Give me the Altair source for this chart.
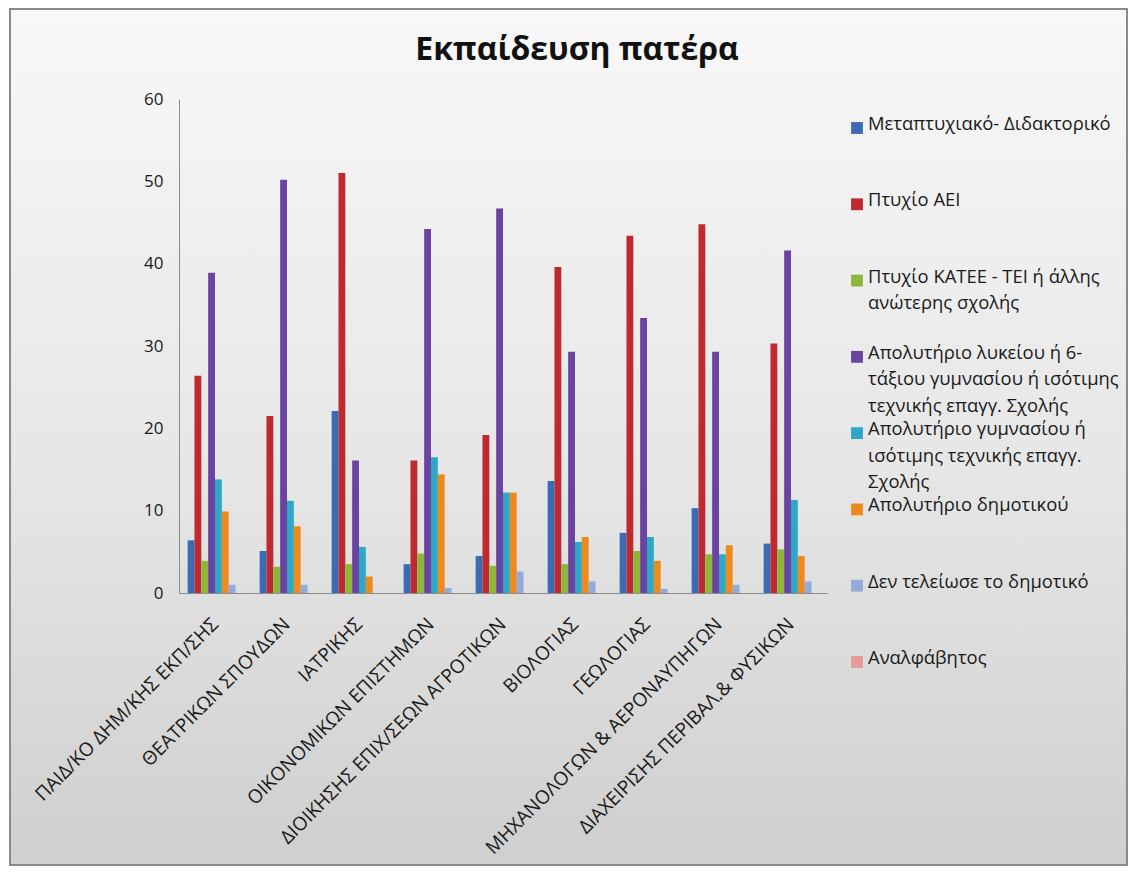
import altair as alt
import pandas as pd

categories = [
    "ΠΑΙΔ/ΚΟ ΔΗΜ/ΚΗΣ ΕΚΠ/ΣΗΣ",
    "ΘΕΑΤΡΙΚΩΝ ΣΠΟΥΔΩΝ",
    "ΙΑΤΡΙΚΗΣ",
    "ΟΙΚΟΝΟΜΙΚΩΝ ΕΠΙΣΤΗΜΩΝ",
    "ΔΙΟΙΚΗΣΗΣ ΕΠΙΧ/ΣΕΩΝ ΑΓΡΟΤΙΚΩΝ",
    "ΒΙΟΛΟΓΙΑΣ",
    "ΓΕΩΛΟΓΙΑΣ",
    "ΜΗΧΑΝΟΛΟΓΩΝ  & ΑΕΡΟΝΑΥΠΗΓΩΝ",
    "ΔΙΑΧΕΙΡΙΣΗΣ ΠΕΡΙΒΑΛ.& ΦΥΣΙΚΩΝ",
]

series = [
    "Μεταπτυχιακό- Διδακτορικό",
    "Πτυχίο ΑΕΙ",
    "Πτυχίο ΚΑΤΕΕ - ΤΕΙ ή άλλης ανώτερης σχολής",
    "Απολυτήριο λυκείου ή 6-τάξιου γυμνασίου ή ισότιμης τεχνικής επαγγ. Σχολής",
    "Απολυτήριο γυμνασίου ή ισότιμης τεχνικής επαγγ. Σχολής",
    "Απολυτήριο δημοτικού",
    "Δεν τελείωσε το δημοτικό",
    "Αναλφάβητος",
]

legend_labels = [
    "Μεταπτυχιακό- Διδακτορικό",
    "Πτυχίο ΑΕΙ",
    "Πτυχίο ΚΑΤΕΕ - ΤΕΙ ή άλλης\nανώτερης σχολής",
    "Απολυτήριο λυκείου ή 6-\nτάξιου γυμνασίου ή ισότιμης\nτεχνικής επαγγ. Σχολής",
    "Απολυτήριο γυμνασίου ή\nισότιμης τεχνικής επαγγ.\nΣχολής",
    "Απολυτήριο δημοτικού",
    "Δεν τελείωσε το δημοτικό",
    " Αναλφάβητος",
]

postgrad = [6.4, 5.1, 22.1, 3.5, 4.5, 13.6, 7.3, 10.3, 6.0]
aei = [26.4, 21.5, 51.0, 16.1, 19.2, 39.6, 43.4, 44.8, 30.3]
tei = [3.9, 3.2, 3.5, 4.8, 3.3, 3.5, 5.1, 4.7, 5.3]
lyceum = [38.9, 50.2, 16.1, 44.2, 46.7, 29.3, 33.4, 29.3, 41.6]
gymnasium = [13.8, 11.2, 5.6, 16.5, 12.2, 6.2, 6.8, 4.7, 11.3]
primary = [9.9, 8.1, 2.0, 14.4, 12.2, 6.8, 3.9, 5.8, 4.5]
no_primary = [1.0, 1.0, 0.0, 0.6, 2.6, 1.4, 0.5, 1.0, 1.4]
illiterate = [0.0, 0.0, 0.0, 0.0, 0.0, 0.0, 0.0, 0.0, 0.0]

colors = ["#3A6BB5", "#BE2A2E", "#8DB63C", "#6B43A0", "#2FA7C7", "#EE8A1C", "#92ABDA", "#E59A9C"]

all_values = [postgrad, aei, tei, lyceum, gymnasium, primary, no_primary, illiterate]
rows = []
for s, vals in zip(series, all_values):
    for c, v in zip(categories, vals):
        rows.append({"category": c, "series": s, "value": v})
df = pd.DataFrame(rows)

legend_df = pd.DataFrame({"series": series, "label": legend_labels, "idx": list(range(len(series)))})

FONT = "Open Sans"
color_scale = alt.Scale(domain=series, range=colors)

W, H = 648, 494

bg = alt.Chart(pd.DataFrame({"k": [0]})).mark_rect(
    fill=alt.Gradient(
        gradient="linear",
        stops=[alt.GradientStop(color="#f8f8f8", offset=0),
               alt.GradientStop(color="#e6e6e6", offset=0.55),
               alt.GradientStop(color="#cfcfcf", offset=1)],
        x1=0, x2=0, y1=0, y2=1),
    stroke="#8a8a8a", strokeWidth=2,
).encode(x=alt.value(-169), x2=alt.value(948), y=alt.value(-90), y2=alt.value(766))

bars = alt.Chart(df).mark_bar().encode(
    x=alt.X("category:N", sort=categories, title=None,
            scale=alt.Scale(paddingInner=0.24, paddingOuter=0.12),
            axis=alt.Axis(labelAngle=-45, labelAlign="right", labelBaseline="middle",
                          labelPadding=28, ticks=False, tickSize=0, domainColor="#8c8c8c",
                          labelFont=FONT, labelFontSize=19, labelColor="#1a1a1a",
                          labelLimit=500, grid=False, zindex=1)),
    xOffset=alt.XOffset("series:N", sort=series, scale=alt.Scale(paddingInner=0, paddingOuter=0)),
    y=alt.Y("value:Q", title=None, scale=alt.Scale(domain=[0, 60]),
            axis=alt.Axis(values=[0, 10, 20, 30, 40, 50, 60], ticks=False, tickSize=0,
                          labelPadding=16, domainColor="#8c8c8c", grid=False, zindex=1,
                          labelFont=FONT, labelFontSize=17, labelColor="#1a1a1a")),
    color=alt.Color("series:N", scale=color_scale, legend=None),
)

leg_y = alt.Y("idx:Q", scale=alt.Scale(domain=[0, 7], range=[29, 563]), axis=None)

leg_sq = alt.Chart(legend_df).mark_square(size=140, opacity=1).encode(
    x=alt.value(678), y=leg_y,
    color=alt.Color("series:N", scale=color_scale, legend=None),
)

leg_txt = alt.Chart(legend_df).mark_text(
    align="left", baseline="top", dy=-13, lineBreak="\n", lineHeight=26.5,
    font=FONT, fontSize=18.4, color="#1a1a1a",
).encode(x=alt.value(689), y=leg_y, text="label:N")

chart = alt.layer(bg, bars, leg_sq, leg_txt).resolve_scale(y="independent").properties(
    width=W, height=H,
    autosize="none",
    padding={"left": 171, "top": 91, "right": 302, "bottom": 274},
    background="#ffffff",
    title=alt.TitleParams("Εκπαίδευση πατέρα", font=FONT, fontSize=32, fontWeight="bold",
                          anchor="middle", frame="group", dx=74, offset=-84, color="#111111",
                          baseline="alphabetic"),
).configure_view(stroke=None)

chart.save("out.html", embed_options={"renderer": "svg", "actions": False})
